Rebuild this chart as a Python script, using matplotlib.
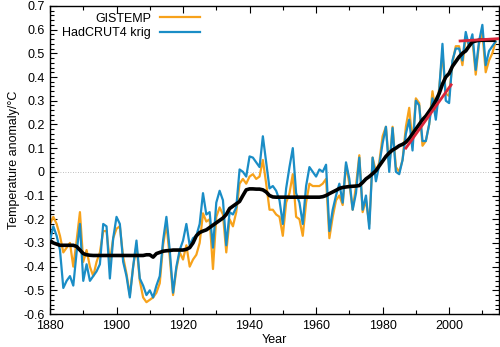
import numpy as np
import matplotlib
matplotlib.use("Agg")
import matplotlib.pyplot as plt
from matplotlib.ticker import MultipleLocator, FuncFormatter

plt.rcParams['font.family'] = ['Liberation Sans', 'DejaVu Sans']
plt.rcParams['axes.unicode_minus'] = False

years = np.arange(1880, 2015)

# annual anomalies, degC
gistemp = [
    -0.22, -0.19, -0.22, -0.27, -0.34, -0.32, -0.30, -0.40, -0.29, -0.17,
    -0.38, -0.33, -0.40, -0.44, -0.38, -0.34, -0.25, -0.25, -0.38, -0.28,
    -0.24, -0.23, -0.36, -0.43, -0.52, -0.40, -0.31, -0.46, -0.53, -0.55,
    -0.54, -0.53, -0.51, -0.47, -0.31, -0.22, -0.36, -0.52, -0.41, -0.34,
    -0.37, -0.31, -0.40, -0.37, -0.35, -0.30, -0.175, -0.21, -0.20, -0.41,
    -0.19, -0.15, -0.18, -0.34, -0.20, -0.23, -0.17, -0.05, -0.03, -0.05,
    -0.02, -0.01, -0.03, -0.02, 0.05, -0.05, -0.16, -0.16, -0.18, -0.19,
    -0.27, -0.13, -0.09, -0.01, -0.19, -0.20, -0.27, -0.13, -0.05, -0.06,
    -0.06, -0.06, -0.05, -0.03, -0.28, -0.19, -0.12, -0.10, -0.14, 0.03,
    -0.05, -0.16, -0.06, 0.07, -0.17, -0.12, -0.22, 0.06, 0.00, 0.04,
    0.15, 0.19, 0.02, 0.19, 0.02, 0.00, 0.05, 0.19, 0.27, 0.12,
    0.31, 0.29, 0.11, 0.13, 0.20, 0.34, 0.25, 0.35, 0.50, 0.33,
    0.32, 0.46, 0.53, 0.53, 0.45, 0.57, 0.53, 0.56, 0.41, 0.54,
    0.59, 0.42, 0.47, 0.50, 0.55,
]

hadcrut4_krig = [
    -0.29, -0.23, -0.27, -0.33, -0.49, -0.46, -0.44, -0.48, -0.34, -0.22,
    -0.46, -0.39, -0.46, -0.44, -0.42, -0.39, -0.22, -0.23, -0.45, -0.28,
    -0.19, -0.22, -0.38, -0.44, -0.53, -0.40, -0.29, -0.45, -0.48, -0.52,
    -0.50, -0.53, -0.48, -0.44, -0.29, -0.19, -0.33, -0.51, -0.40, -0.33,
    -0.29, -0.22, -0.31, -0.28, -0.27, -0.22, -0.09, -0.18, -0.17, -0.32,
    -0.13, -0.08, -0.12, -0.31, -0.17, -0.18, -0.15, 0.01, 0.00, -0.02,
    0.065, 0.06, 0.04, 0.02, 0.15, 0.04, -0.07, -0.06, -0.08, -0.12,
    -0.22, -0.07, 0.02, 0.10, -0.09, -0.13, -0.22, -0.06, 0.02, 0.00,
    -0.02, 0.01, 0.00, 0.03, -0.25, -0.16, -0.10, -0.05, -0.13, 0.04,
    -0.03, -0.16, -0.09, 0.06, -0.16, -0.10, -0.24, 0.06, -0.04, 0.03,
    0.12, 0.19, 0.00, 0.185, 0.00, -0.01, 0.05, 0.16, 0.22, 0.09,
    0.30, 0.28, 0.13, 0.13, 0.20, 0.31, 0.22, 0.34, 0.54, 0.30,
    0.29, 0.47, 0.52, 0.52, 0.47, 0.59, 0.53, 0.58, 0.43, 0.55,
    0.62, 0.45, 0.51, 0.53, 0.55,
]

# smoothed, step-like background signal
smooth = [
    -0.29, -0.30, -0.305, -0.31, -0.31, -0.31, -0.31, -0.31, -0.315, -0.33,
    -0.345, -0.35, -0.352, -0.353, -0.353, -0.353, -0.353, -0.353, -0.353, -0.353,
    -0.353, -0.353, -0.353, -0.353, -0.353, -0.353, -0.353, -0.353, -0.353, -0.35,
    -0.35, -0.36, -0.345, -0.34, -0.335, -0.333, -0.332, -0.33, -0.33, -0.33,
    -0.33, -0.327, -0.32, -0.30, -0.27, -0.256, -0.25, -0.245, -0.235, -0.225,
    -0.215, -0.205, -0.195, -0.18, -0.155, -0.145, -0.135, -0.125, -0.10, -0.076,
    -0.072, -0.072, -0.073, -0.073, -0.076, -0.085, -0.10, -0.106, -0.107, -0.107,
    -0.107, -0.107, -0.107, -0.107, -0.107, -0.107, -0.107, -0.107, -0.107, -0.107,
    -0.107, -0.107, -0.105, -0.10, -0.092, -0.085, -0.078, -0.07, -0.066, -0.064,
    -0.062, -0.061, -0.06, -0.058, -0.045, -0.03, -0.02, -0.008, 0.005, 0.025,
    0.045, 0.065, 0.08, 0.092, 0.10, 0.11, 0.116, 0.125, 0.14, 0.16,
    0.18, 0.20, 0.22, 0.235, 0.255, 0.275, 0.30, 0.33, 0.37, 0.40,
    0.415, 0.445, 0.465, 0.485, 0.50, 0.51, 0.53, 0.548, 0.552, 0.555,
    0.555, 0.555, 0.555, 0.555, 0.555,
]

# linear trends over the two sub-periods
trend1_years = [1987, 2000.6]
trend1_vals = [0.10, 0.367]
trend2_years = [2003.3, 2015]
trend2_vals = [0.552, 0.562]

orange = '#f7a21b'
blue = '#1a8dc6'
red = '#d9263a'

fig = plt.figure(figsize=(5.0, 3.47), dpi=100)
ax = fig.add_axes([0.1, 0.095, 0.898, 0.888])

ax.axhline(0, color='#aaaaaa', lw=0.6, ls=(0, (1, 2)), zorder=1)
ax.plot(years, gistemp, color=orange, lw=1.6, label='GISTEMP', zorder=2)
ax.plot(years, hadcrut4_krig, color=blue, lw=1.6, label='HadCRUT4 krig', zorder=3)
ax.plot(years, smooth, color='black', lw=2.6, zorder=4, solid_capstyle='butt')
ax.plot(trend1_years, trend1_vals, color=red, lw=2.0, zorder=5)
ax.plot(trend2_years, trend2_vals, color=red, lw=2.0, zorder=5)

ax.set_xlim(1880, 2015)
ax.set_ylim(-0.6, 0.7)
ax.xaxis.set_major_locator(MultipleLocator(20))
ax.xaxis.set_minor_locator(MultipleLocator(10))
ax.yaxis.set_major_locator(MultipleLocator(0.1))
ax.yaxis.set_minor_locator(MultipleLocator(0.02))
ax.yaxis.set_major_formatter(FuncFormatter(lambda v, p: '0' if abs(v) < 1e-9 else f'{v:.1f}'))

ax.tick_params(which='both', direction='in', top=True, right=True, labelsize=9, width=0.8)
ax.tick_params(which='major', length=5, pad=4)
ax.tick_params(which='minor', length=2.6)
for s in ax.spines.values():
    s.set_linewidth(1.0)

ax.set_xlabel('Year', fontsize=9, labelpad=2)
ax.set_ylabel('Temperature anomaly/°C', fontsize=9, labelpad=2)

leg = ax.legend(loc='upper right', bbox_to_anchor=(0.342, 0.99), frameon=False,
                markerfirst=False, fontsize=9, handlelength=3.2, handletextpad=0.7,
                labelspacing=0.2, borderpad=0.3, borderaxespad=0)

fig.savefig('out.png', dpi=100)
